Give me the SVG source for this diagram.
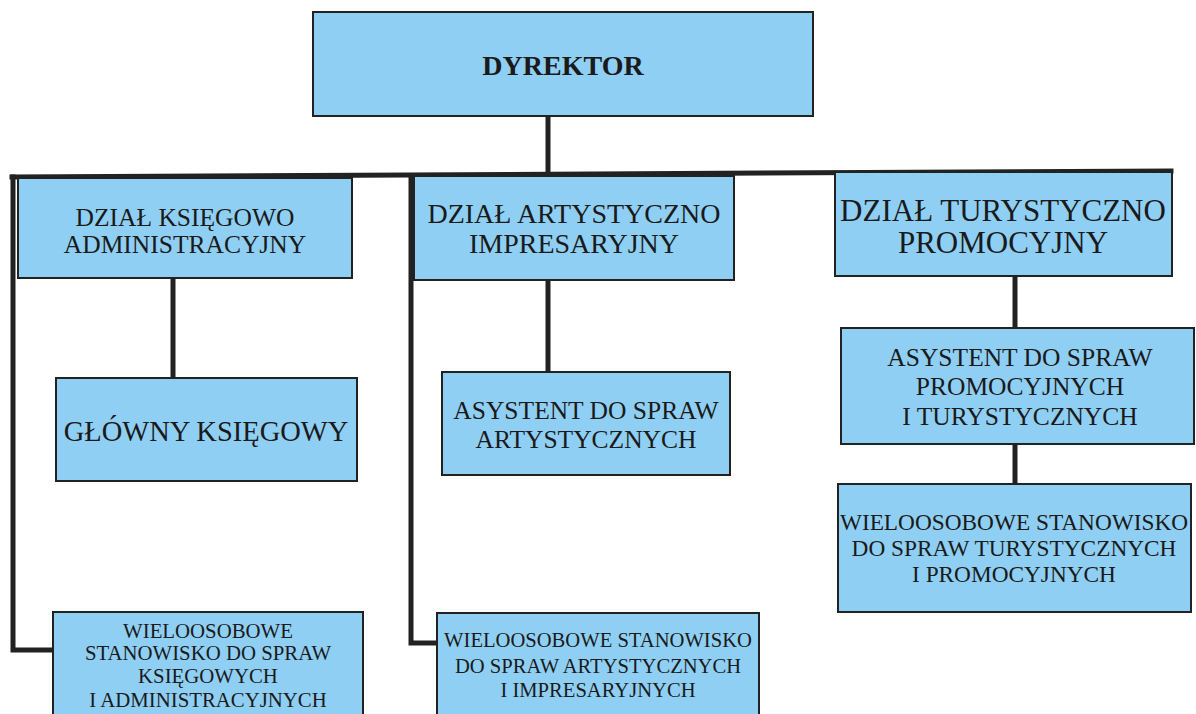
<svg xmlns="http://www.w3.org/2000/svg" width="1196" height="714" viewBox="0 0 1196 714">
<style>
.box{fill:#8fcff4;stroke:#222;stroke-width:2}
.c{fill:none;stroke:#222;stroke-width:5;stroke-linecap:square;stroke-linejoin:miter}
text{font-family:"Liberation Serif","Times New Roman",serif;fill:#1a1a1a;text-anchor:middle;dominant-baseline:central}
</style>
<rect width="1196" height="714" fill="#fff"/>
<g id="connectors">
<line class="c" x1="548" y1="116" x2="548" y2="174"/>
<line class="c" x1="12" y1="177" x2="1171" y2="171"/>
<polyline class="c" points="13,177 13,650 55,650"/>
<polyline class="c" points="411,176 411,643 438,643"/>
<line class="c" x1="173" y1="278" x2="173" y2="378"/>
<line class="c" x1="548" y1="280" x2="548" y2="372"/>
<line class="c" x1="1015" y1="276" x2="1015" y2="328"/>
<line class="c" x1="1015" y1="444" x2="1015" y2="484"/>
</g>
<g id="dyrektor">
<rect class="box" x="313" y="12" width="500" height="104"/>
<text x="563" y="65" font-size="28" font-weight="bold">DYREKTOR</text>
</g>
<g id="dzial-ksiegowo">
<rect class="box" x="18" y="178" width="334" height="100"/>
<text x="185" y="217" font-size="25.5">DZIAŁ KSIĘGOWO</text>
<text x="185" y="244" font-size="25.5">ADMINISTRACYJNY</text>
</g>
<g id="dzial-artystyczno">
<rect class="box" x="414" y="176" width="320" height="104"/>
<text x="574" y="213" font-size="28">DZIAŁ ARTYSTYCZNO</text>
<text x="574" y="243" font-size="28">IMPRESARYJNY</text>
</g>
<g id="dzial-turystyczno">
<rect class="box" x="835" y="172" width="337" height="104"/>
<text x="1003" y="210" font-size="31">DZIAŁ TURYSTYCZNO</text>
<text x="1003" y="242" font-size="31">PROMOCYJNY</text>
</g>
<g id="glowny-ksiegowy">
<rect class="box" x="56" y="378" width="301" height="103"/>
<text x="206" y="431" font-size="28.5">GŁÓWNY KSIĘGOWY</text>
</g>
<g id="asystent-artystyczny">
<rect class="box" x="442" y="372" width="288" height="103"/>
<text x="586" y="410" font-size="25.5">ASYSTENT DO SPRAW</text>
<text x="586" y="439" font-size="25.5">ARTYSTYCZNYCH</text>
</g>
<g id="asystent-promocyjny">
<rect class="box" x="841" y="328" width="353" height="116"/>
<text x="1020" y="357" font-size="25.5">ASYSTENT DO SPRAW</text>
<text x="1020" y="386" font-size="25.5">PROMOCYJNYCH</text>
<text x="1020" y="416" font-size="25.5">I TURYSTYCZNYCH</text>
</g>
<g id="wieloosobowe-turystyczne">
<rect class="box" x="838" y="484" width="353" height="128"/>
<text x="1014" y="522" font-size="23.3">WIELOOSOBOWE STANOWISKO</text>
<text x="1014" y="548" font-size="23.3">DO SPRAW TURYSTYCZNYCH</text>
<text x="1014" y="574" font-size="23.3">I PROMOCYJNYCH</text>
</g>
<g id="wieloosobowe-ksiegowe">
<rect class="box" x="53" y="612" width="310" height="112"/>
<text x="208" y="630" font-size="20.8">WIELOOSOBOWE</text>
<text x="208" y="652" font-size="20.8">STANOWISKO DO SPRAW</text>
<text x="208" y="675" font-size="20.8">KSIĘGOWYCH</text>
<text x="208" y="699" font-size="20.8">I ADMINISTRACYJNYCH</text>
</g>
<g id="wieloosobowe-artystyczne">
<rect class="box" x="437" y="613" width="322" height="112"/>
<text x="598" y="640" font-size="20.6">WIELOOSOBOWE STANOWISKO</text>
<text x="598" y="666" font-size="20.6">DO SPRAW ARTYSTYCZNYCH</text>
<text x="598" y="690" font-size="20.6">I IMPRESARYJNYCH</text>
</g>
</svg>
